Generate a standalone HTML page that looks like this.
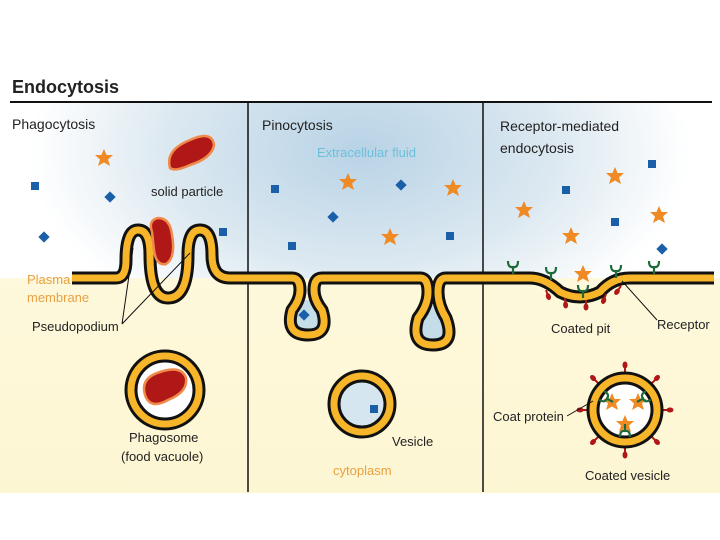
<!DOCTYPE html>
<html><head><style>body{margin:0;background:#fff}svg{display:block}text{font-family:"Liberation Sans",sans-serif}</style></head><body>
<svg width="720" height="540" viewBox="0 0 720 540">
<defs>
<radialGradient id="bl" cx="360" cy="150" r="330" gradientUnits="userSpaceOnUse" gradientTransform="translate(0,0) scale(1,0.6) translate(0,100)">
<stop offset="0" stop-color="#b8d3e6"/><stop offset="0.6" stop-color="#dde9f1"/><stop offset="1" stop-color="#ffffff"/></radialGradient>
<linearGradient id="yl" x1="0" y1="0" x2="0" y2="1"><stop offset="0" stop-color="#fffbe3"/><stop offset="1" stop-color="#fdf6d3"/></linearGradient>
<g id="star"><polygon points="0,-9 2.6,-3 9,-3 4,1.5 6,8 0,4.5 -6,8 -4,1.5 -9,-3 -2.6,-3" fill="#f08a24"/></g>
<g id="rec"><path d="M0,8 V0 M-5,-5 Q-5,2 0,1 Q5,2 5,-5" stroke="#1e6b3a" stroke-width="2.2" fill="none"/></g>
<g id="cp"><path d="M0,0 V-5" stroke="#b01818" stroke-width="2"/><ellipse cx="0" cy="-7" rx="2.5" ry="3.5" fill="#b01818"/></g>
<path id="mem" d="M72,278 H116 Q126,278 126,260 Q126,230 138,230 Q150,230 150,255 Q150,298 168,298 Q188,298 188,255 Q188,230 200,230 Q212,230 212,255 Q212,278 230,278 H292 Q300,278 300,290 Q300,300 292,310 Q285,335 308,335 Q330,335 322,310 Q314,300 314,290 Q314,278 322,278 H420 Q428,278 428,292 Q428,305 418,318 Q410,345 433,345 Q456,345 446,318 Q438,305 438,292 Q438,278 446,278 H530 Q545,278 560,292 Q580,302 600,292 Q612,278 630,278 H714"/>
</defs>
<rect x="0" y="103" width="720" height="390" fill="url(#yl)"/>
<rect x="0" y="103" width="720" height="175" fill="url(#bl)"/>
<text x="12" y="93" font-size="18" font-weight="bold" fill="#222">Endocytosis</text>
<line x1="10" y1="102" x2="712" y2="102" stroke="#111" stroke-width="2"/>
<line x1="248" y1="103" x2="248" y2="492" stroke="#111" stroke-width="1.5"/>
<line x1="483" y1="103" x2="483" y2="492" stroke="#111" stroke-width="1.5"/>
<text x="12" y="129" font-size="14" fill="#222">Phagocytosis</text>
<text x="262" y="130" font-size="14" fill="#222">Pinocytosis</text>
<text x="317" y="157" font-size="13" fill="#6cc0dc">Extracellular fluid</text>
<text x="500" y="131" font-size="14" fill="#222">Receptor-mediated</text>
<text x="500" y="153" font-size="14" fill="#222">endocytosis</text>
<path d="M300,300 Q286,335 308,335 Q330,335 314,300Z M428,305 Q410,345 433,345 Q456,345 438,305Z" fill="#c5dce9"/>
<g fill="none" stroke-linejoin="round">
<use href="#mem" stroke="#111" stroke-width="13"/>
<use href="#mem" stroke="#f7b52a" stroke-width="7"/>
</g>
<path d="M170,168 Q165,150 190,140 Q212,130 214,145 Q212,158 190,165 Q175,172 170,168Z" fill="#b01818" stroke="#f08a4a" stroke-width="2.5"/>
<text x="151" y="196" font-size="13" fill="#222">solid particle</text>
<path d="M152,232 Q148,220 158,218 Q170,218 172,235 Q176,258 166,264 Q156,266 154,250Z" fill="#b01818" stroke="#f08a4a" stroke-width="2.5"/>
<g fill="#1a5fa8">
<rect x="31" y="182" width="8" height="8"/><rect x="219" y="228" width="8" height="8"/><rect x="271" y="185" width="8" height="8"/><rect x="288" y="242" width="8" height="8"/><rect x="446" y="232" width="8" height="8"/><rect x="562" y="186" width="8" height="8"/><rect x="648" y="160" width="8" height="8"/><rect x="611" y="218" width="8" height="8"/>
<rect x="106" y="193" width="8" height="8" transform="rotate(45 110 197)"/><rect x="40" y="233" width="8" height="8" transform="rotate(45 44 237)"/><rect x="329" y="213" width="8" height="8" transform="rotate(45 333 217)"/><rect x="397" y="181" width="8" height="8" transform="rotate(45 401 185)"/><rect x="300" y="311" width="8" height="8" transform="rotate(45 304 315)"/><rect x="658" y="245" width="8" height="8" transform="rotate(45 662 249)"/>
</g>
<use href="#star" x="104" y="158"/><use href="#star" x="348" y="182"/><use href="#star" x="453" y="188"/><use href="#star" x="390" y="237"/><use href="#star" x="615" y="176"/><use href="#star" x="524" y="210"/><use href="#star" x="571" y="236"/><use href="#star" x="659" y="215"/><use href="#star" x="583" y="274"/>
<use href="#rec" x="513" y="266"/><use href="#rec" x="551" y="272"/><use href="#rec" x="583" y="290"/><use href="#rec" x="616" y="270"/><use href="#rec" x="654" y="266"/>
<g transform="translate(546,290) rotate(160)"><use href="#cp"/></g>
<g transform="translate(565,298) rotate(175)"><use href="#cp"/></g>
<g transform="translate(586,300) rotate(180)"><use href="#cp"/></g>
<g transform="translate(606,294) rotate(200)"><use href="#cp"/></g>
<g transform="translate(621,286) rotate(215)"><use href="#cp"/></g>
<line x1="622" y1="281" x2="657" y2="320" stroke="#111"/>
<text x="657" y="329" font-size="13" fill="#222">Receptor</text>
<text x="551" y="333" font-size="13" fill="#222">Coated pit</text>
<text x="27" y="284" font-size="13" fill="#e8a040">Plasma</text>
<text x="27" y="302" font-size="13" fill="#e8a040">membrane</text>
<text x="32" y="331" font-size="13" fill="#222">Pseudopodium</text>
<path d="M122,324 L133,248 M122,324 L190,253" stroke="#111" fill="none"/>
<circle cx="165" cy="390" r="34" fill="#fff" stroke="#111" stroke-width="13"/>
<circle cx="165" cy="390" r="34" fill="none" stroke="#f7b52a" stroke-width="7"/>
<path d="M145,395 Q140,378 160,372 Q182,365 186,378 Q188,392 168,400 Q150,410 145,395Z" fill="#b01818" stroke="#f08a4a" stroke-width="2.5"/>
<text x="129" y="442" font-size="13" fill="#222">Phagosome</text>
<text x="121" y="461" font-size="13" fill="#222">(food vacuole)</text>
<circle cx="362" cy="404" r="28" fill="#d6e6f0" stroke="#111" stroke-width="13"/>
<circle cx="362" cy="404" r="28" fill="none" stroke="#f7b52a" stroke-width="7"/>
<rect x="370" y="405" width="8" height="8" fill="#1a5fa8"/>
<text x="392" y="446" font-size="13" fill="#222">Vesicle</text>
<text x="333" y="475" font-size="13" fill="#e8a040">cytoplasm</text>
<g>
<g transform="translate(625,372)"><use href="#cp"/></g>
<g transform="translate(625,448) rotate(180)"><use href="#cp"/></g>
<g transform="translate(587,410) rotate(-90)"><use href="#cp"/></g>
<g transform="translate(663,410) rotate(90)"><use href="#cp"/></g>
<g transform="translate(598,383) rotate(-45)"><use href="#cp"/></g>
<g transform="translate(652,383) rotate(45)"><use href="#cp"/></g>
<g transform="translate(598,437) rotate(-135)"><use href="#cp"/></g>
<g transform="translate(652,437) rotate(135)"><use href="#cp"/></g>
</g>
<circle cx="625" cy="410" r="32" fill="#fff" stroke="#111" stroke-width="13"/>
<circle cx="625" cy="410" r="32" fill="none" stroke="#f7b52a" stroke-width="7"/>
<use href="#star" x="612" y="402"/><use href="#star" x="638" y="402"/><use href="#star" x="625" y="424"/>
<circle cx="625" cy="407" r="4" fill="#fff"/>
<g transform="translate(606,398) rotate(-60)"><use href="#rec"/></g>
<g transform="translate(644,398) rotate(60)"><use href="#rec"/></g>
<g transform="translate(625,432) rotate(180)"><use href="#rec"/></g>
<line x1="567" y1="416" x2="593" y2="401" stroke="#111"/>
<text x="493" y="421" font-size="13" fill="#222">Coat protein</text>
<text x="585" y="480" font-size="13" fill="#222">Coated vesicle</text>
</svg>
</body></html>
